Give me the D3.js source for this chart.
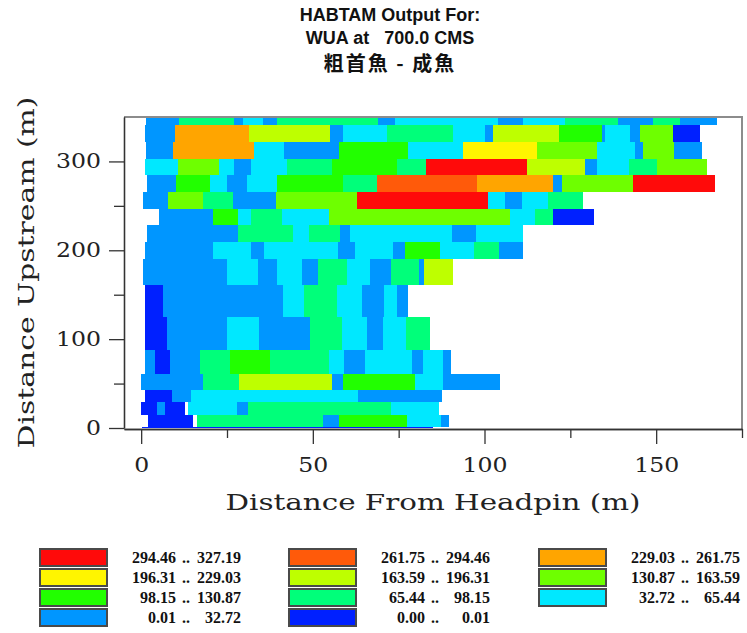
<!DOCTYPE html>
<html>
<head>
<meta charset="utf-8">
<script src="https://cdn.jsdelivr.net/npm/d3@7"></script>
<style>
  body { margin: 0; background: #fff; }
</style>
</head>
<body>
<svg id="chart" width="747" height="633"></svg>
<script>
// ─── Data ────────────────────────────────────────────────────────────────
// WUA class limits and colours (class index 0 .. 10)
const classBreaks = [0.00, 0.01, 32.72, 65.44, 98.15, 130.87, 163.59, 196.31, 229.03, 261.75, 294.46, 327.19];
const classColors = ["#0020ff", "#0096ff", "#00e8ff", "#00ff7a", "#22ff00", "#6eff00",
                     "#beff00", "#fff500", "#ffa500", "#ff5a0a", "#ff0a0a"];

// transect limits, metres upstream, from top row down
const rowEdges = [350, 341.3, 321.9, 303.1, 284.4, 265.6, 246.8, 228.1, 209.3,
                  190.5, 160.9, 125.3, 87.8, 60.8, 42.8, 29.6, 14.6, 1.5, 0];

// cell limits across each row, metres from headpin
const rowBreaks = [
  [1.4, 11.1, 27.0, 29.6, 35.4, 39.5, 69.1, 73.9, 104.0, 111.3, 123.4, 139.0, 149.2, 156.9, 167.6],
  [1.1, 9.8, 31.5, 55.0, 58.9, 71.5, 90.9, 100.1, 102.6, 121.8, 134.1, 135.1, 142.5, 145.4, 154.9, 162.8],
  [1.4, 9.3, 32.9, 41.6, 57.5, 77.7, 93.7, 115.4, 132.7, 143.8, 146.1, 155.2, 163.3],
  [1.1, 10.8, 22.8, 27.0, 31.9, 42.6, 55.6, 74.4, 83.0, 112.5, 129.3, 132.7, 142.1, 150.3, 164.8],
  [1.6, 10.1, 20.0, 24.9, 30.9, 39.5, 58.9, 68.6, 97.7, 120.0, 122.5, 143.2, 167.1],
  [0.6, 7.9, 17.9, 26.7, 39.3, 62.8, 101.1, 106.0, 110.8, 118.5, 128.8],
  [5.3, 20.8, 28.3, 31.9, 40.9, 54.8, 107.4, 114.7, 120.0, 132.0],
  [1.6, 28.3, 44.3, 49.0, 57.9, 60.9, 90.4, 97.5, 111.3],
  [1.1, 20.8, 31.9, 35.8, 57.2, 62.3, 73.4, 76.8, 87.0, 97.0, 104.2, 111.1],
  [0.6, 24.9, 34.1, 39.6, 46.7, 51.4, 59.9, 66.6, 72.8, 80.9, 82.5, 90.7],
  [1.1, 6.4, 41.4, 47.4, 56.9, 64.2, 70.6, 74.5, 77.6],
  [1.1, 7.4, 24.9, 34.4, 49.2, 58.4, 65.9, 70.3, 77.0, 84.1],
  [1.1, 4.0, 8.4, 17.1, 25.9, 37.5, 54.6, 59.0, 65.1, 78.8, 82.0, 88.0, 90.2],
  [0.0, 17.9, 28.6, 55.5, 58.9, 79.7, 88.0, 104.5],
  [1.1, 8.9, 14.4, 63.3, 87.5],
  [0.0, 4.7, 6.9, 12.8, 13.6, 27.8, 31.2, 72.8, 86.7],
  [2.1, 15.0, 16.2, 53.0, 57.7, 77.3, 87.4, 89.6],
  [0.2, 85.1]
];

// class of each cell (null = no data)
const rowClasses = [
  [1, 3, 1, 2, 1, 3, 1, 2, 1, 2, 3, 1, 3, 1],
  [1, 8, 6, 1, 2, 3, 2, 1, 6, 4, 1, 2, 1, 5, 0],
  [1, 8, 2, 1, 4, 2, 7, 5, 2, 1, 5, 1],
  [2, 5, 2, 1, 2, 3, 4, 3, 10, 6, 1, 2, 3, 5],
  [1, 4, 2, 1, 2, 4, 3, 9, 8, 1, 5, 10],
  [1, 5, 3, 1, 5, 10, 2, 1, 2, 3],
  [1, 4, 2, 3, 2, 5, 2, 3, 0],
  [1, 3, 2, 3, 1, 2, 1, 2],
  [1, 2, 1, 2, 1, 2, 1, 4, 2, 3, 1],
  [1, 2, 1, 2, 1, 3, 2, 1, 3, 1, 6],
  [0, 1, 2, 3, 2, 1, 2, 1],
  [0, 1, 2, 1, 3, 2, 1, 2, 3],
  [1, 0, 1, 3, 4, 3, 2, 1, 2, 1, 2, 1],
  [1, 3, 6, 1, 4, 2, 1],
  [0, 1, 2, 1],
  [0, 1, 0, null, 2, 1, 3, 2],
  [0, null, 3, 1, 4, 2, 1],
  [0]
];

const xMajor = [0, 50, 100, 150];
const xMinor = [25, 75, 125, 175];
const yMajor = [0, 100, 200, 300];
const yMinor = [50, 150, 250];

const titleLines = ["HABTAM Output For:", "WUA at   700.0 CMS", "粗首魚 - 成魚"];

// legend order, read row by row in three columns
const legendOrder = [10, 9, 8, 7, 6, 5, 4, 3, 2, 1, 0];

// ─── Setup ───────────────────────────────────────────────────────────────
const svg = d3.select("#chart");
const serif = "'DejaVu Serif', serif";

const x = d3.scaleLinear().domain([-5, 175]).range([124, 742]);
const y = d3.scaleLinear().domain([0, 350]).range([428, 117]);
const color = d3.scaleOrdinal().domain(d3.range(classColors.length)).range(classColors);

// ─── Cells ───────────────────────────────────────────────────────────────
const cells = [];
rowBreaks.forEach((b, i) => {
  for (let j = 0; j < b.length - 1; j++) {
    const c = rowClasses[i][j];
    if (c == null) continue;
    cells.push({ x0: b[j], x1: b[j + 1], lo: rowEdges[i + 1], hi: rowEdges[i], c });
  }
});

svg.append("g")
  .selectAll("rect")
  .data(cells)
  .join("rect")
    .attr("x", d => x(d.x0))
    .attr("width", d => x(d.x1) - x(d.x0))
    .attr("y", d => y(d.hi))
    .attr("height", d => y(d.lo) - y(d.hi))
    .attr("fill", d => color(d.c))
    .attr("shape-rendering", "crispEdges");

// frame top and right
svg.append("path")
  .attr("d", `M${x(-5)},${y(350)}H${x(175)}V${y(0) + 1}`)
  .attr("fill", "none")
  .attr("stroke", "#8c8c8c")
  .attr("stroke-width", 2);

// ─── Axes ────────────────────────────────────────────────────────────────
function styleAxis(g) {
  g.selectAll("path, line").attr("stroke", "#333").attr("stroke-width", 1.3);
  g.selectAll("text")
    .attr("font-family", serif)
    .attr("font-size", 20)
    .attr("fill", "#222")
    .attr("textLength", function () { return this.textContent.length * 15; })
    .attr("lengthAdjust", "spacingAndGlyphs");
}

const xAxisY = y(0) + 1;
svg.append("g")
  .attr("transform", `translate(0,${xAxisY})`)
  .call(d3.axisBottom(x).tickValues(xMinor).tickSize(9).tickFormat("").tickSizeOuter(0))
  .call(styleAxis);
svg.append("g")
  .attr("transform", `translate(0,${xAxisY})`)
  .call(d3.axisBottom(x).tickValues(xMajor).tickSize(15).tickPadding(14).tickSizeOuter(0))
  .call(styleAxis);

svg.append("g")
  .attr("transform", `translate(${x(-5)},0)`)
  .call(d3.axisLeft(y).tickValues(yMinor).tickSize(10).tickFormat("").tickSizeOuter(0))
  .call(styleAxis);
svg.append("g")
  .attr("transform", `translate(${x(-5)},0)`)
  .call(d3.axisLeft(y).tickValues(yMajor).tickSize(15).tickPadding(8).tickSizeOuter(0))
  .call(styleAxis);

// axis titles
svg.append("text")
  .attr("x", (x(-5) + x(175)) / 2)
  .attr("y", 510)
  .attr("text-anchor", "middle")
  .attr("font-family", serif)
  .attr("font-size", 22)
  .attr("fill", "#222")
  .attr("textLength", 415)
  .attr("lengthAdjust", "spacingAndGlyphs")
  .text("Distance From Headpin (m)");

svg.append("text")
  .attr("transform", `translate(34,${(y(0) + y(350)) / 2}) rotate(-90)`)
  .attr("text-anchor", "middle")
  .attr("font-family", serif)
  .attr("font-size", 22)
  .attr("fill", "#222")
  .attr("textLength", 352)
  .attr("lengthAdjust", "spacingAndGlyphs")
  .text("Distance Upstream (m)");

// ─── Title ───────────────────────────────────────────────────────────────
const titleY = [21, 44, 71];
svg.append("g")
  .selectAll("text")
  .data(titleLines)
  .join("text")
    .attr("x", 390)
    .attr("y", (d, i) => titleY[i])
    .attr("text-anchor", "middle")
    .attr("font-family", (d, i) => i < 2 ? "'Liberation Sans', Arial, sans-serif" : "'Noto Sans CJK TC', sans-serif")
    .attr("font-weight", "bold")
    .attr("font-size", (d, i) => i < 2 ? 18 : 20)
    .attr("letter-spacing", (d, i) => i < 2 ? 0 : 2)
    .attr("fill", "#111")
    .style("white-space", "pre")
    .text(d => d);

// ─── Legend ──────────────────────────────────────────────────────────────
const colX = [40, 289, 539];
const rowY = [549, 569, 589, 609];
const fmt = d3.format(".2f");

const leg = svg.append("g")
  .selectAll("g")
  .data(legendOrder)
  .join("g")
    .attr("transform", (d, i) => `translate(${colX[i % 3]},${rowY[Math.floor(i / 3)]})`);

leg.append("rect")
  .attr("width", 67)
  .attr("height", 17)
  .attr("fill", d => color(d))
  .attr("stroke", "#4a4a4a")
  .attr("stroke-width", 2);

const legText = g => g
  .attr("y", 13.5)
  .attr("font-family", "'Liberation Serif', 'Times New Roman', serif")
  .attr("font-weight", "bold")
  .attr("font-size", 16)
  .attr("fill", "#111");

leg.append("text").call(legText)
  .attr("x", 136).attr("text-anchor", "end")
  .text(d => fmt(classBreaks[d]));
leg.append("text").call(legText)
  .attr("x", 146).attr("text-anchor", "middle")
  .text("..");
leg.append("text").call(legText)
  .attr("x", 201).attr("text-anchor", "end")
  .text(d => fmt(classBreaks[d + 1]));
</script>
</body>
</html>
